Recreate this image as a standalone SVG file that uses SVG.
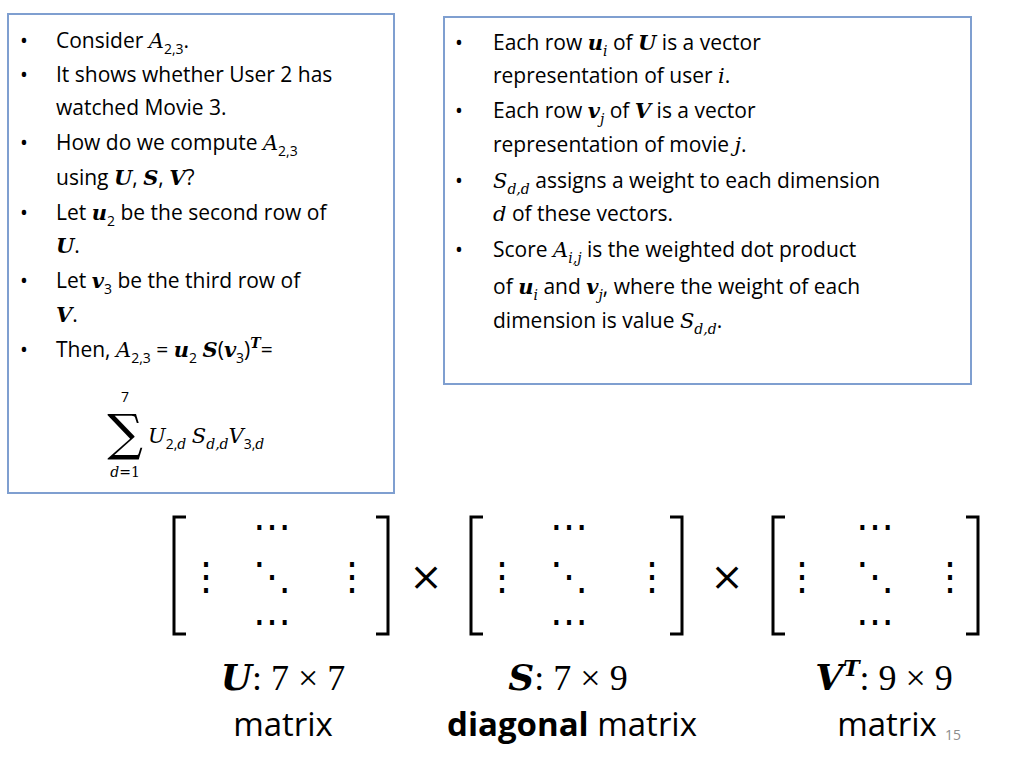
<svg xmlns="http://www.w3.org/2000/svg" width="1024" height="768" viewBox="0 0 1024 768">
<style>
.t{font-family:"Open Sans","Liberation Sans",sans-serif;font-size:21px;fill:#000}
.m{font-family:"DejaVu Serif","Liberation Serif",serif;font-style:italic}
.b{font-weight:bold}
.box{fill:#fff;stroke:#7f9fd0;stroke-width:2}
.br{fill:none;stroke:#000;stroke-width:3}
.d{font-family:"DejaVu Serif",serif;font-size:38px;text-anchor:middle}
.L{font-family:"Liberation Serif","DejaVu Serif",serif;font-size:36px;text-anchor:middle}
.L2{font-family:"Open Sans","Liberation Sans",sans-serif;font-size:33px;text-anchor:middle}
</style>
<rect width="1024" height="768" fill="#fff"/>
<g id="leftbox">
<rect class="box" x="8" y="14" width="386" height="479"/>
<g class="t">
<text x="20" y="48">•</text><text x="56" y="48">Consider <tspan class="m">A</tspan><tspan font-size="14" dy="6">2,3</tspan><tspan dy="-6">.</tspan></text>
<text x="20" y="82">•</text><text x="56" y="82">It shows whether User 2 has</text>
<text x="56" y="115">watched Movie 3.</text>
<text x="20" y="150">•</text><text x="56" y="150">How do we compute <tspan class="m">A</tspan><tspan font-size="14" dy="6">2,3</tspan></text>
<text x="56" y="185">using <tspan class="m b">U</tspan>, <tspan class="m b">S</tspan>, <tspan class="m b">V</tspan>?</text>
<text x="20" y="220">•</text><text x="56" y="220">Let <tspan class="m b">u</tspan><tspan font-size="14" dy="6">2</tspan><tspan dy="-6"> be the second row of</tspan></text>
<text x="56" y="253"><tspan class="m b">U</tspan>.</text>
<text x="20" y="288">•</text><text x="56" y="288">Let <tspan class="m b">v</tspan><tspan font-size="14" dy="6">3</tspan><tspan dy="-6"> be the third row of</tspan></text>
<text x="56" y="322"><tspan class="m b">V</tspan>.</text>
<text x="20" y="357">•</text><text x="56" y="357">Then, <tspan class="m">A</tspan><tspan font-size="14" dy="6">2,3</tspan><tspan dy="-6"> = </tspan><tspan class="m b">u</tspan><tspan font-size="14" dy="6">2</tspan><tspan dy="-6"> </tspan><tspan class="m b">S</tspan>(<tspan class="m b">v</tspan><tspan font-size="14" dy="6">3</tspan><tspan dy="-6">)</tspan><tspan class="m b" font-size="14" dy="-9">T</tspan><tspan dy="9">=</tspan></text>
<text x="125" y="402" font-size="14" text-anchor="middle">7</text>
<text x="125" y="450" font-size="50" text-anchor="middle" font-family="DejaVu Serif,serif">∑</text>
<text x="125" y="477" font-size="14" text-anchor="middle" class="m">d<tspan font-style="normal">=1</tspan></text>
<text x="148" y="443"><tspan class="m">U</tspan><tspan font-size="14" dy="6">2,<tspan class="m">d</tspan></tspan><tspan dy="-6"> </tspan><tspan class="m">S</tspan><tspan font-size="14" dy="6" class="m">d,d</tspan><tspan dy="-6" class="m">V</tspan><tspan font-size="14" dy="6">3,<tspan class="m">d</tspan></tspan></text>
</g>
</g>
<g id="rightbox">
<rect class="box" x="444" y="17" width="527" height="367"/>
<g class="t">
<text x="455" y="50">•</text><text x="493" y="50">Each row <tspan class="m b">u</tspan><tspan font-size="14" dy="6" class="m">i</tspan><tspan dy="-6"> of </tspan><tspan class="m b">U</tspan> is a vector</text>
<text x="493" y="83">representation of user <tspan class="m">i</tspan>.</text>
<text x="455" y="118">•</text><text x="493" y="118">Each row <tspan class="m b">v</tspan><tspan font-size="14" dy="6" class="m">j</tspan><tspan dy="-6"> of </tspan><tspan class="m b">V</tspan> is a vector</text>
<text x="493" y="152">representation of movie <tspan class="m">j</tspan>.</text>
<text x="455" y="188">•</text><text x="493" y="188"><tspan class="m">S</tspan><tspan font-size="14" dy="6" class="m">d,d</tspan><tspan dy="-6"> assigns a weight to each dimension</tspan></text>
<text x="493" y="221"><tspan class="m">d</tspan> of these vectors.</text>
<text x="455" y="257">•</text><text x="493" y="257">Score <tspan class="m">A</tspan><tspan font-size="14" dy="6" class="m">i,j</tspan><tspan dy="-6"> is the weighted dot product</tspan></text>
<text x="493" y="294">of <tspan class="m b">u</tspan><tspan font-size="14" dy="6" class="m">i</tspan><tspan dy="-6"> and </tspan><tspan class="m b">v</tspan><tspan font-size="14" dy="6" class="m">j</tspan><tspan dy="-6">, where the weight of each</tspan></text>
<text x="493" y="328">dimension is value <tspan class="m">S</tspan><tspan font-size="14" dy="6" class="m">d,d</tspan><tspan dy="-6">.</tspan></text>
</g>
</g>
<g id="matrices">
<path class="br" d="M186,517 H174 V634 H186 M376,517 H388 V634 H376"/>
<path class="br" d="M483,517 H471 V634 H483 M670,517 H682 V634 H670"/>
<path class="br" d="M785,517 H773 V634 H785 M966,517 H978 V634 H966"/>
<g class="d">
<text x="272" y="540">⋯</text><text x="206" y="590">⋮</text><text x="272" y="590">⋱</text><text x="352" y="590">⋮</text><text x="272" y="635">⋯</text>
<text x="569" y="540">⋯</text><text x="502" y="590">⋮</text><text x="569" y="590">⋱</text><text x="652" y="590">⋮</text><text x="569" y="635">⋯</text>
<text x="875" y="540">⋯</text><text x="802" y="590">⋮</text><text x="875" y="590">⋱</text><text x="950" y="590">⋮</text><text x="875" y="635">⋯</text>
<text x="426" y="590" font-size="40">×</text><text x="727" y="590" font-size="40">×</text>
</g>
</g>
<g id="labels">
<text class="L" x="283" y="690"><tspan class="m b">U</tspan>: 7 × 7</text>
<text class="L2" x="283" y="736">matrix</text>
<text class="L" x="568" y="690"><tspan class="m b">S</tspan>: 7 × 9</text>
<text class="L2" x="572" y="736"><tspan font-weight="bold">diagonal</tspan> matrix</text>
<text class="L" x="884" y="690"><tspan class="m b">V</tspan><tspan class="m b" font-size="22" dy="-14">T</tspan><tspan dy="14">: 9 × 9</tspan></text>
<text class="L2" x="887" y="736">matrix</text>
<text x="945" y="740" font-family="Open Sans,Liberation Sans,sans-serif" font-size="14" fill="#8c8c8c">15</text>
</g>
</svg>
